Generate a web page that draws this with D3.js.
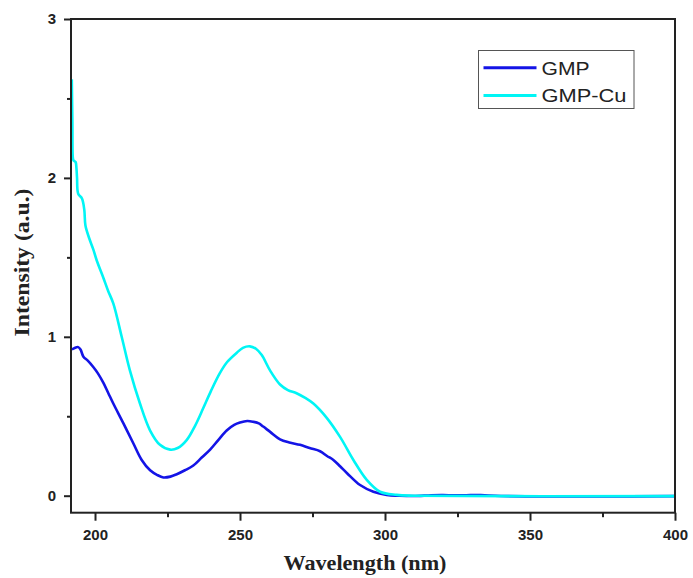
<!DOCTYPE html>
<html>
<head>
<meta charset="utf-8">
<script src="https://cdn.jsdelivr.net/npm/d3@7"></script>
<style>
  html, body { margin: 0; padding: 0; background: #fff; }
  svg { display: block; }
</style>
</head>
<body>
<svg id="chart" width="693" height="578"></svg>
<script>
// ---- data ----
const gmpWavelength = [192.0, 193.0, 194.2, 195.0, 196.0, 197.5, 199.4, 201.0, 202.9, 204.6, 206.3, 209.8, 213.2, 216.1, 219.0, 221.5, 223.6, 226.0, 228.2, 231.0, 233.9, 236.8, 239.7, 242.5, 245.4, 248.0, 250.0, 252.5, 254.6, 256.5, 258.0, 260.5, 263.8, 267.0, 270.7, 274.0, 277.6, 280.0, 282.2, 284.5, 287.0, 291.4, 296.0, 300.6, 305.0, 310.0, 316.0, 320.0, 324.0, 328.0, 333.0, 340.0, 400.0];
const gmpValues     = [0.92, 0.93, 0.935, 0.92, 0.875, 0.85, 0.81, 0.77, 0.71, 0.645, 0.58, 0.455, 0.33, 0.225, 0.16, 0.13, 0.115, 0.12, 0.135, 0.16, 0.19, 0.24, 0.29, 0.35, 0.41, 0.445, 0.46, 0.47, 0.465, 0.455, 0.435, 0.40, 0.355, 0.335, 0.32, 0.30, 0.28, 0.25, 0.225, 0.185, 0.14, 0.067, 0.025, 0.005, 0.0, -0.002, 0.003, 0.004, 0.002, 0.003, 0.004, -0.002, -0.003];

const cuWavelength = [192.0, 192.2, 192.4, 192.6, 193.3, 193.6, 193.8, 194.2, 195.5, 196.3, 196.7, 198.0, 199.4, 200.6, 202.9, 204.5, 206.3, 209.2, 212.0, 215.5, 219.0, 222.4, 225.9, 228.5, 231.6, 234.5, 237.3, 240.0, 243.0, 245.5, 248.9, 251.0, 253.4, 255.5, 257.5, 260.3, 263.8, 266.5, 269.5, 272.5, 275.3, 279.9, 284.5, 289.1, 293.7, 298.3, 304.0, 310.0, 400.0];
const cuValues     = [2.62, 2.35, 2.12, 2.11, 2.10, 2.06, 2.0, 1.90, 1.87, 1.80, 1.70, 1.62, 1.55, 1.48, 1.37, 1.29, 1.21, 1.00, 0.79, 0.58, 0.41, 0.32, 0.29, 0.30, 0.35, 0.44, 0.55, 0.66, 0.77, 0.84, 0.90, 0.93, 0.94, 0.925, 0.885, 0.79, 0.70, 0.665, 0.645, 0.615, 0.58, 0.49, 0.37, 0.225, 0.10, 0.025, 0.005, 0.0, -0.003];

const seriesNames  = ["GMP", "GMP-Cu"];
const seriesColors = ["#1414e6", "#00f5f5"];

const xMajorTicks = [200, 250, 300, 350, 400];
const xMinorTicks = [225, 275, 325, 375];
const yMajorTicks = [0, 1, 2, 3];
const yMinorTicks = [0.5, 1.5, 2.5];

// ---- layout ----
const plotLeft = 71, plotTop = 19, plotRight = 675, plotBottom = 512.7;
const svg = d3.select("#chart");

const x = d3.scaleLinear().domain([191.72, 400]).range([plotLeft, plotRight]);
const y = d3.scaleLinear().domain([-0.107, 3]).range([plotBottom, plotTop]);

svg.append("defs").append("clipPath").attr("id", "clip")
  .append("rect").attr("x", plotLeft).attr("y", plotTop)
  .attr("width", plotRight - plotLeft).attr("height", plotBottom - plotTop);

// ---- series ----
const line = d3.line().x(d => x(d[0])).y(d => y(d[1])).curve(d3.curveCatmullRom.alpha(0.5));
const series = [
  d3.zip(gmpWavelength, gmpValues),
  d3.zip(cuWavelength, cuValues)
];
series.forEach((pts, i) => {
  svg.append("path")
    .datum(pts)
    .attr("clip-path", "url(#clip)")
    .attr("fill", "none")
    .attr("stroke", seriesColors[i])
    .attr("stroke-width", 2.6)
    .attr("stroke-linejoin", "round")
    .attr("d", line);
});

// ---- axes ----
const tickFont = "bold 15px 'Liberation Sans', Arial, sans-serif";
const fmt = d3.format("d");

const xAxis = svg.append("g").attr("transform", `translate(0,${plotBottom})`)
  .call(d3.axisBottom(x).tickValues(xMajorTicks).tickFormat(fmt).tickSize(8).tickSizeOuter(0).tickPadding(9));
const xMinor = svg.append("g").attr("transform", `translate(0,${plotBottom})`)
  .call(d3.axisBottom(x).tickValues(xMinorTicks).tickSize(4.5).tickSizeOuter(0).tickFormat(""));
const yAxis = svg.append("g").attr("transform", `translate(${plotLeft},0)`)
  .call(d3.axisLeft(y).tickValues(yMajorTicks).tickFormat(fmt).tickSize(7).tickSizeOuter(0).tickPadding(8));
const yMinor = svg.append("g").attr("transform", `translate(${plotLeft},0)`)
  .call(d3.axisLeft(y).tickValues(yMinorTicks).tickSize(4).tickSizeOuter(0).tickFormat(""));

[xAxis, xMinor, yAxis, yMinor].forEach(g => {
  g.select(".domain").remove();
  g.selectAll(".tick line").attr("stroke", "#222").attr("stroke-width", 2);
  g.selectAll(".tick text").attr("fill", "#222").style("font", tickFont);
});

// frame
svg.append("rect")
  .attr("x", plotLeft).attr("y", plotTop)
  .attr("width", plotRight - plotLeft).attr("height", plotBottom - plotTop)
  .attr("fill", "none").attr("stroke", "#222").attr("stroke-width", 2);

// axis titles
svg.append("text")
  .attr("x", 365).attr("y", 569.5)
  .attr("text-anchor", "middle")
  .attr("textLength", 163).attr("lengthAdjust", "spacingAndGlyphs")
  .style("font", "bold 22px 'Liberation Serif', 'Times New Roman', serif")
  .attr("fill", "#222")
  .text("Wavelength (nm)");

svg.append("text")
  .attr("transform", "translate(28.5,262.5) rotate(-90)")
  .attr("text-anchor", "middle")
  .attr("textLength", 148).attr("lengthAdjust", "spacingAndGlyphs")
  .style("font", "bold 21px 'Liberation Serif', 'Times New Roman', serif")
  .attr("fill", "#222")
  .text("Intensity (a.u.)");

// legend
const legend = svg.append("g");
legend.append("rect")
  .attr("x", 478.5).attr("y", 50.5).attr("width", 155.5).attr("height", 58)
  .attr("fill", "#fff").attr("stroke", "#555").attr("stroke-width", 1);
const rowsY = [67.7, 95.5];
seriesNames.forEach((name, i) => {
  legend.append("line")
    .attr("x1", 483.5).attr("x2", 536.5)
    .attr("y1", rowsY[i]).attr("y2", rowsY[i])
    .attr("stroke", seriesColors[i]).attr("stroke-width", 3);
  legend.append("text")
    .attr("x", 541.5).attr("y", rowsY[i] + 6.8)
    .attr("fill", "#222")
    .attr("textLength", i === 0 ? 48 : 85).attr("lengthAdjust", "spacingAndGlyphs")
    .style("font", "19px 'Liberation Sans', Arial, sans-serif")
    .text(name);
});
</script>
</body>
</html>
